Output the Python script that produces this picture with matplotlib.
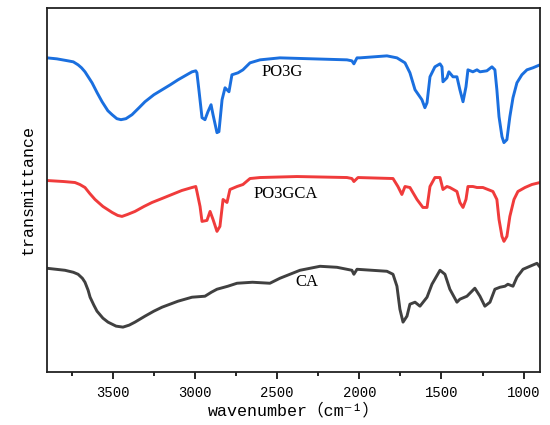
import matplotlib
matplotlib.use("Agg")
import matplotlib.pyplot as plt
from matplotlib.ticker import MultipleLocator

# vertical values in arbitrary (offset) units
wn_po3g = [3900, 3840, 3772, 3740, 3711, 3690, 3669, 3626, 3595, 3565, 3530, 3504,
           3475, 3450, 3420, 3383, 3340, 3304, 3250, 3200, 3150, 3103, 3050, 3018,
           2995, 2988, 2976, 2957, 2939, 2921, 2902, 2890, 2866, 2854, 2835, 2817,
           2793, 2775, 2738, 2708, 2665, 2604, 2483, 2282, 2075, 2045, 2033, 2014,
           1996, 1832, 1771, 1722, 1692, 1661, 1619, 1601, 1588, 1570, 1540, 1509,
           1497, 1491, 1467, 1455, 1430, 1406, 1388, 1369, 1351, 1339, 1309, 1284,
           1266, 1224, 1193, 1175, 1163, 1150, 1132, 1120, 1102, 1084, 1065, 1041,
           1011, 980, 944, 901]
t_po3g = [315, 314, 312, 311, 308, 305, 301, 290, 280, 271, 262, 258,
          254, 253, 254, 258, 265, 271, 278, 283, 288, 293, 298, 301,
          302, 300, 283, 255, 253, 261, 268, 258, 240, 241, 273, 285,
          281, 298, 300, 303, 310, 313, 315, 314, 313, 312, 309, 315,
          315, 317, 315, 310, 300, 283, 273, 265, 270, 296, 306, 309,
          306, 291, 295, 301, 296, 296, 283, 271, 286, 303, 301, 303,
          301, 302, 306, 303, 283, 256, 236, 230, 233, 256, 275, 290,
          298, 303, 305, 308]

wn_po3gca = [3900, 3800, 3730, 3700, 3669, 3640, 3608, 3560, 3504, 3470, 3444, 3410,
             3365, 3310, 3261, 3200, 3140, 3080, 3018, 2995, 2988, 2969,
             2957, 2927, 2908, 2890, 2866, 2848, 2829, 2805, 2787, 2744, 2708, 2665,
             2604, 2379, 2075, 2045, 2033, 2008, 1795, 1765, 1741, 1722, 1692, 1649,
             1613, 1588, 1570, 1540, 1509, 1491, 1467, 1449, 1406, 1388, 1369, 1351,
             1339, 1309, 1284, 1248, 1187, 1163, 1150, 1132, 1120, 1102, 1084, 1059,
             1035, 992, 950, 901]
t_po3gca = [192, 191, 190, 188, 185, 179, 173, 166, 160, 157, 156, 158,
            161, 166, 170, 174, 178, 182, 185, 186, 181, 166,
            151, 152, 161, 153, 141, 146, 173, 170, 183, 186, 188, 194,
            195, 196, 195, 194, 191, 195, 194, 186, 178, 186, 185, 173,
            165, 165, 186, 195, 195, 183, 186, 185, 181, 170, 165, 173,
            186, 186, 185, 185, 181, 173, 153, 136, 131, 136, 156, 173,
            181, 185, 188, 190]

wn_ca = [3900, 3791, 3740, 3711, 3685, 3669, 3650, 3638, 3615, 3596, 3560, 3529,
         3480, 3438, 3400, 3365, 3304, 3250, 3200, 3103, 3018, 2939, 2900, 2866,
         2800, 2744, 2650, 2544, 2483, 2361, 2239, 2136, 2045, 2033, 2014,
         1832, 1795, 1771, 1753, 1734, 1710, 1692, 1661, 1631, 1588, 1558, 1509,
         1479, 1449, 1406, 1388, 1345, 1297, 1266, 1236, 1205, 1175, 1144, 1114,
         1096, 1065, 1041, 1004, 962, 919, 895]
t_ca = [104, 102, 100, 98, 94, 90, 82, 75, 67, 61, 54, 50,
        46, 45, 47, 50, 56, 61, 65, 71, 75, 76, 80, 83,
        86, 89, 90, 89, 94, 102, 106, 105, 102, 98, 103,
        101, 98, 86, 63, 50, 56, 68, 70, 66, 75, 88, 102,
        98, 83, 70, 73, 76, 84, 76, 66, 70, 83, 85, 86,
        88, 86, 95, 103, 106, 109, 104]

names = ['PO3G', 'PO3GCA', 'CA']
colors = ['#1a6fdf', '#f03b3b', '#404040']
label_pos = [(2470, 301), (2450, 178), (2320, 90)]

fig = plt.figure(figsize=(5.5, 4.25), dpi=100)
ax = fig.add_axes([0.0855, 0.1247, 0.8965, 0.8565])

series = [(wn_po3g, t_po3g), (wn_po3gca, t_po3gca), (wn_ca, t_ca)]
for (wn, t), c in zip(series, colors):
    ax.plot(wn, t, color=c, lw=2.1, solid_joinstyle='round', solid_capstyle='round')

for name, (lx, ly) in zip(names, label_pos):
    ax.text(lx, ly, name, ha='center', va='center', fontsize=12,
            family='Liberation Serif')

ax.set_xlim(3900, 900)
ax.set_ylim(0, 365)
ax.xaxis.set_major_locator(MultipleLocator(500))
ax.xaxis.set_minor_locator(MultipleLocator(250))
ax.set_yticks([])
ax.tick_params(axis='x', which='major', direction='out', length=5, width=1.2,
               labelsize=10, pad=5)
ax.tick_params(axis='x', which='minor', direction='out', length=3, width=1.2)
for lab in ax.get_xticklabels():
    lab.set_family('Liberation Mono')
for s in ax.spines.values():
    s.set_linewidth(1.3)
    s.set_color('#222222')

ax.set_xlabel('wavenumber\uff08cm\u207b\u00b9\uff09', fontsize=12,
              family=['Liberation Mono', 'Noto Sans CJK SC', 'DejaVu Sans'],
              labelpad=2)
ax.set_ylabel('transmittance', fontsize=12, family='Liberation Mono', labelpad=8)

fig.savefig('out.png', dpi=100)
